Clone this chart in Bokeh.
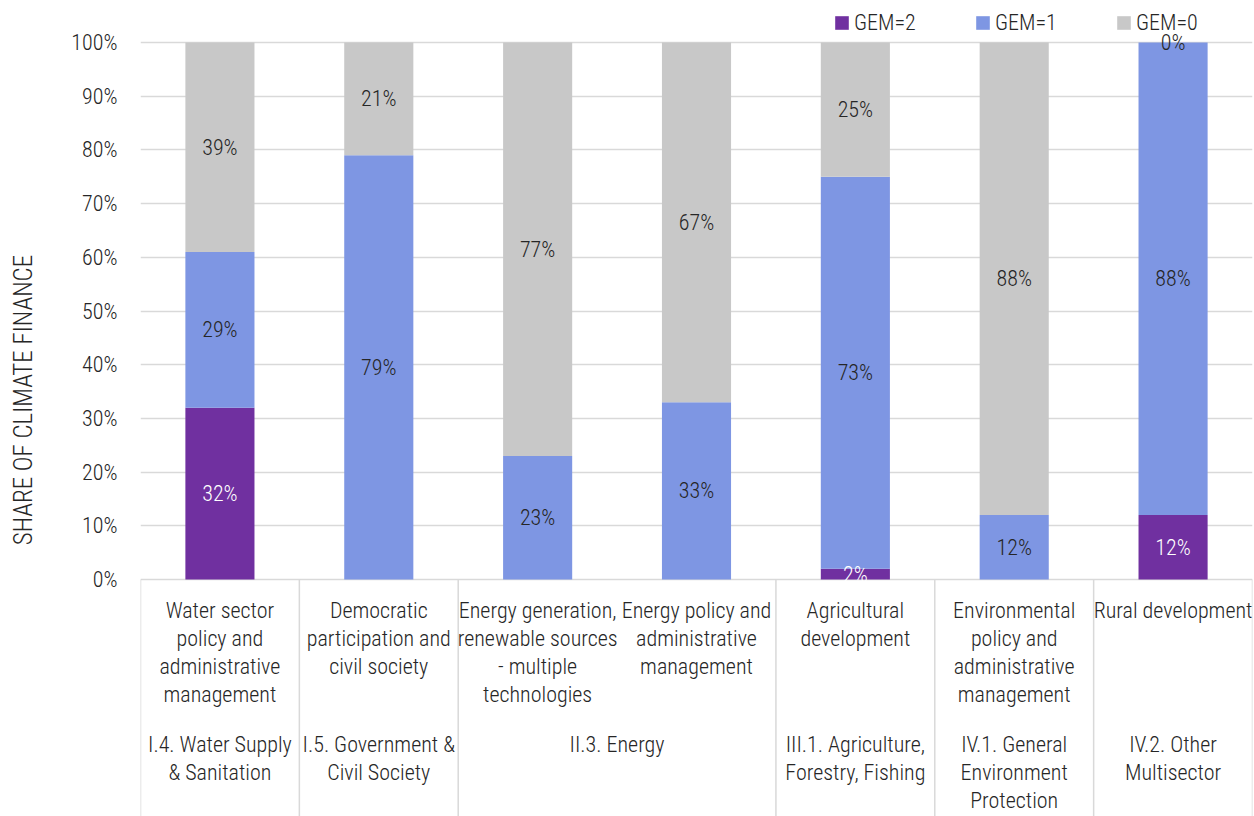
import numpy as np
from bokeh.plotting import figure
from bokeh.models import ColumnDataSource, Range1d, FixedTicker, CustomJSTickFormatter, Legend, LegendItem
from bokeh.core.properties import value
from bokeh.embed import file_html
from bokeh.resources import INLINE

# ---------------- data ----------------
categories = [
    "Water sector policy and administrative management",
    "Democratic participation and civil society",
    "Energy generation, renewable sources - multiple technologies",
    "Energy policy and administrative management",
    "Agricultural development",
    "Environmental policy and administrative management",
    "Rural development",
]
category_tick_labels = [
    "Water sector\npolicy and\nadministrative\nmanagement",
    "Democratic\nparticipation and\ncivil society",
    "Energy generation,\nrenewable sources\n- multiple\ntechnologies",
    "Energy policy and\nadministrative\nmanagement",
    "Agricultural\ndevelopment",
    "Environmental\npolicy and\nadministrative\nmanagement",
    "Rural development",
]
group_tick_labels = [
    "I.4. Water Supply\n& Sanitation",
    "I.5. Government &\nCivil Society",
    "II.3. Energy",
    "III.1. Agriculture,\nForestry, Fishing",
    "IV.1. General\nEnvironment\nProtection",
    "IV.2. Other\nMultisector",
]
group_of_category = [0, 1, 2, 2, 3, 4, 5]

series_names = ["GEM=2", "GEM=1", "GEM=0"]
gem2 = [32, None, None, None, 2, None, 12]   # blank cells -> no label
gem1 = [29, 79, 23, 33, 73, 12, 88]
gem0 = [39, 21, 77, 67, 25, 88, 0]
y_tick_values = [0, 10, 20, 30, 40, 50, 60, 70, 80, 90, 100]
axis_title = "SHARE OF CLIMATE FINANCE"

# ---------------- style ----------------
FONT = "Roboto Condensed Light, Roboto Condensed"
FS = "22px"
LH = 1.115
TXT = "#262626"
GRID = "#d9d9d9"
colors = ["#7030A0", "#7E96E3", "#C8C8C8"]
label_colors = ["#ffffff", TXT, TXT]

n = len(categories)
xs = np.arange(n)
series = [gem2, gem1, gem0]
vals = [np.array([0.0 if v is None else v / 100.0 for v in s]) for s in series]

p = figure(width=1254, height=816, output_backend="svg", toolbar_location=None,
           x_range=Range1d(-0.5, n - 0.5), y_range=Range1d(-0.4413, 1.0782),
           x_axis_location=None, min_border_left=140, min_border_right=2,
           min_border_top=0, min_border_bottom=0)
p.outline_line_color = None
p.xgrid.visible = False

ticker = FixedTicker(ticks=[v / 100.0 for v in y_tick_values])
p.yaxis.ticker = ticker
p.yaxis.formatter = CustomJSTickFormatter(code="return Math.round(tick*100) + '%';")
p.yaxis.axis_line_color = None
p.yaxis.major_tick_line_color = None
p.yaxis.minor_tick_line_color = None
p.yaxis.major_tick_in = 0
p.yaxis.major_tick_out = 0
p.yaxis.major_label_standoff = 23
p.yaxis.major_label_text_font = FONT
p.yaxis.major_label_text_font_size = FS
p.yaxis.major_label_text_color = TXT
# leading no-break spaces nudge the centred title slightly upwards, as in the original
p.yaxis.axis_label = "\u00a0\u00a0\u00a0" + axis_title
p.yaxis.axis_label_text_font = FONT
p.yaxis.axis_label_text_font_size = "25px"
p.yaxis.axis_label_text_font_style = "normal"
p.yaxis.axis_label_text_color = TXT
p.yaxis.axis_label_standoff = 30
p.ygrid.ticker = ticker
p.ygrid.grid_line_color = GRID
p.ygrid.grid_line_width = 1.5

# stacked bars
bottom = np.zeros(n)
renderers = []
lx, ly, lt, lc = [], [], [], []
for s, v, col, lcol in zip(series, vals, colors, label_colors):
    src = ColumnDataSource(dict(x=xs, bottom=bottom.copy(), top=bottom + v))
    r = p.vbar(x="x", bottom="bottom", top="top", width=0.435, source=src,
               fill_color=col, line_color=None)
    renderers.append(r)
    for i, raw in enumerate(s):
        if raw is not None:
            lx.append(xs[i]); ly.append(bottom[i] + v[i] / 2)
            lt.append(f"{raw:.0f}%"); lc.append(lcol)
    bottom = bottom + v

p.text(x=lx, y=ly, text=lt, text_color=lc, text_font=value(FONT), text_font_size=FS,
       text_align="center", text_baseline="middle")

# category box separators (group boundaries)
bounds = [-0.5]
for i in range(1, n):
    if group_of_category[i] != group_of_category[i - 1]:
        bounds.append(i - 0.5)
bounds.append(n - 0.5)
y0 = p.y_range.start
p.segment(x0=bounds, x1=bounds, y0=[0] * len(bounds), y1=[y0] * len(bounds),
          line_color=GRID, line_width=1.5)

# category labels
p.text(x=xs, y=[-0.0345] * n, text=category_tick_labels, text_color=TXT,
       text_font=value(FONT), text_font_size=FS, text_align="center",
       text_baseline="top", text_line_height=LH)
# group labels
gx = []
for g in range(len(group_tick_labels)):
    members = [i for i in range(n) if group_of_category[i] == g]
    gx.append(sum(members) / len(members))
p.text(x=gx, y=[-0.284] * len(gx), text=group_tick_labels, text_color=TXT,
       text_font=value(FONT), text_font_size=FS, text_align="center",
       text_baseline="top", text_line_height=LH)

legend = Legend(items=[LegendItem(label=nm, renderers=[r]) for nm, r in zip(series_names, renderers)],
                orientation="horizontal", location=(693, 781),
                glyph_width=17, glyph_height=17, label_standoff=4, label_width=70,
                label_height=22, spacing=50, padding=0, margin=0,
                border_line_color=None, background_fill_alpha=0,
                label_text_font=FONT, label_text_font_size=FS, label_text_color=TXT)
p.add_layout(legend)

open("out.html", "w").write(file_html(p, INLINE))
